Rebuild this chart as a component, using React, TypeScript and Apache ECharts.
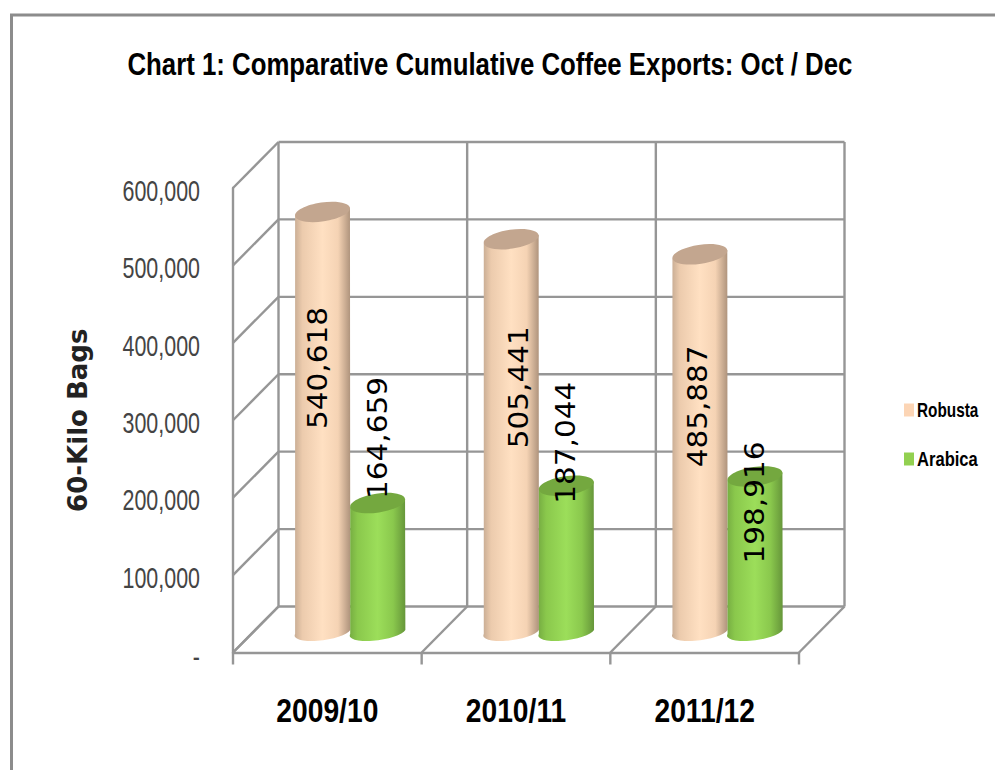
import React, { useEffect, useRef } from "react";
import * as echarts from "echarts";

const seasons = ["2009/10", "2010/11", "2011/12"];
const robusta = [540618, 505441, 485887];
const arabica = [164659, 187044, 198916];
const gridValues = [0, 100000, 200000, 300000, 400000, 500000, 600000];

const SANS = '"Liberation Sans", Arial, sans-serif';
const WIDE = '"DejaVu Sans", Verdana, sans-serif';

const ROBUSTA_COLOR = "#FCD5B5";
const ARABICA_COLOR = "#92D050";

// Depth of the box drawn behind the front plane
const DEPTH_X = 45.5;
const DEPTH_Y = 46;
const GRID_COLOR = "#969696";
const TILT = (8.5 * Math.PI) / 180;

// Shift of each rotated value label from the top centre of its cylinder
const robustaLabelShift = [[-4, 156], [8, 148], [-2, 152]];
const arabicaLabelShift = [[0, -65], [0, -43], [0, 26]];

const fmt = (v: number) => v.toLocaleString("en-US");

const line = (x1: number, y1: number, x2: number, y2: number) => ({
  type: "line",
  shape: { x1, y1, x2, y2 },
  style: { stroke: GRID_COLOR, lineWidth: 2.4 },
});

// One value level: diagonal on the side wall, line on the back wall, tick label in front
const wallLevels = (_: any, api: any) => {
  const band = api.size([1, 0])[0];
  const value = api.value(0);
  const [x0, y] = api.coord([0, value]);
  const left = x0 - band / 2;
  return {
    type: "group",
    children: [
      line(left, y, left + DEPTH_X, y - DEPTH_Y),
      line(left + DEPTH_X, y - DEPTH_Y, left + DEPTH_X + band * seasons.length, y - DEPTH_Y),
      {
        type: "text",
        x: left - 33,
        y: y + (value === 0 ? 4 : 2.5),
        scaleX: 0.74,
        style: {
          text: value === 0 ? "-" : fmt(value),
          fill: "#444",
          font: `29px ${SANS}`,
          align: "right",
          verticalAlign: "middle",
        },
      },
    ],
  };
};

// One category boundary: upright on the back wall, diagonal on the floor, season label
const wallColumns = (_: any, api: any) => {
  const band = api.size([1, 0])[0];
  const idx = api.value(0);
  const [xc, yFloor] = api.coord([Math.min(idx, seasons.length - 1), 0]);
  const [, yTop] = api.coord([0, 600000]);
  const x = xc - band / 2 + (idx === seasons.length ? band : 0);
  const children: any[] = [
    line(x + DEPTH_X, yFloor - DEPTH_Y, x + DEPTH_X, yTop - DEPTH_Y),
    line(x, yFloor, x + DEPTH_X, yFloor - DEPTH_Y),
    line(x, yFloor, x, yFloor + 12),
  ];
  if (idx < seasons.length) {
    children.push({
      type: "text",
      x: xc,
      y: yFloor + 58,
      scaleX: 0.83,
      style: {
        text: seasons[idx],
        fill: "#000",
        font: `bold 34px ${SANS}`,
        align: "center",
        verticalAlign: "middle",
      },
    });
  }
  return { type: "group", children };
};

const cylinder =
  (side: number, stops: string[], lid: string, shifts: number[][]) => (_: any, api: any) => {
    const idx = api.value(0);
    const value = api.value(1);
    const band = api.size([1, 0])[0];
    const rx = band * 0.147;
    const [xc, yTop] = api.coord([idx, value]);
    const [, yBase] = api.coord([idx, 0]);
    const cx = xc + DEPTH_X / 2 + side * band * 0.146;
    const top = yTop - 22;
    const base = yBase - 22.5;
    const dx = rx * Math.cos(TILT);
    const dy = rx * Math.sin(TILT);
    const body =
      `M${cx - dx} ${top + dy}L${cx - dx} ${base + dy}` +
      `A${rx} 8 -8.5 0 0 ${cx + dx} ${base - dy}L${cx + dx} ${top - dy}Z`;
    const [sx, sy] = shifts[idx];
    return {
      type: "group",
      children: [
        {
          type: "path",
          shape: { pathData: body },
          style: {
            fill: {
              type: "linear",
              x: 0,
              y: 0,
              x2: 1,
              y2: 0,
              colorStops: [
                { offset: 0, color: stops[0] },
                { offset: 0.14, color: stops[1] },
                { offset: 0.5, color: stops[2] },
                { offset: 0.78, color: stops[3] },
                { offset: 1, color: stops[4] },
              ],
            },
          },
        },
        {
          type: "ellipse",
          x: cx,
          y: top,
          rotation: TILT,
          shape: { cx: 0, cy: 0, rx, ry: 9.5 },
          style: { fill: lid },
        },
        {
          type: "text",
          x: cx + sx,
          y: top + sy,
          rotation: Math.PI / 2,
          scaleY: 0.88,
          z2: 10,
          style: {
            text: fmt(value),
            fill: "#000",
            font: `29.5px ${WIDE}`,
            align: "center",
            verticalAlign: "middle",
          },
        },
      ],
    };
  };

const legendEntry = (name: string, color: string, y: number, stretch: number) => ({
  type: "group",
  children: [
    { type: "rect", shape: { x: 904, y: y - 6.5, width: 10, height: 13 }, style: { fill: color } },
    {
      type: "text",
      x: 917,
      y,
      scaleX: stretch,
      style: {
        text: name,
        fill: "#000",
        font: `bold 21px ${SANS}`,
        align: "left",
        verticalAlign: "middle",
      },
    },
  ],
});

const option: any = {
  animation: false,
  backgroundColor: "#fff",
  grid: { left: 233, right: 196, top: 188, bottom: 117.5 },
  xAxis: {
    type: "category",
    data: seasons,
    axisLine: { lineStyle: { color: GRID_COLOR, width: 2.4 } },
    axisTick: { show: false },
    axisLabel: { show: false },
  },
  yAxis: {
    type: "value",
    min: 0,
    max: 600000,
    interval: 100000,
    name: "60-Kilo Bags",
    nameLocation: "middle",
    nameRotate: 90,
    nameGap: 142,
    nameTextStyle: { fontFamily: WIDE, fontWeight: "bold", fontSize: 26, color: "#222" },
    axisLine: { show: true, lineStyle: { color: GRID_COLOR, width: 2.4 } },
    axisTick: { show: false },
    splitLine: { show: false },
    axisLabel: { show: false },
  },
  graphic: [
    {
      type: "polyline",
      shape: { points: [[11.5, 770], [11.5, 15], [995, 15]] },
      style: { stroke: "#8c8c8c", lineWidth: 3, fill: "none" },
    },
    {
      type: "text",
      x: 127.5,
      y: 64,
      scaleX: 0.806,
      style: {
        text: "Chart 1: Comparative Cumulative Coffee Exports: Oct / Dec",
        fill: "#000",
        font: `bold 32px ${SANS}`,
        align: "left",
        verticalAlign: "middle",
      },
    },
    legendEntry("Robusta", ROBUSTA_COLOR, 410, 0.73),
    legendEntry("Arabica", ARABICA_COLOR, 459, 0.79),
  ],
  series: [
    {
      name: "walls-levels",
      type: "custom",
      data: gridValues.map((v) => [v]),
      encode: { y: 0 },
      renderItem: wallLevels,
      z: 1,
      silent: true,
    },
    {
      name: "walls-columns",
      type: "custom",
      data: [0, 1, 2, 3].map((i) => [i]),
      encode: { x: 0 },
      renderItem: wallColumns,
      z: 1,
      silent: true,
    },
    {
      name: "Robusta",
      type: "custom",
      itemStyle: { color: ROBUSTA_COLOR },
      data: robusta.map((v, i) => [i, v]),
      encode: { x: 0, y: 1 },
      renderItem: cylinder(-1, ["#c9ad94", "#eccbad", "#ffe0c2", "#f5d3b4", "#ae937c"], "#c3a68f", robustaLabelShift),
      z: 3,
    },
    {
      name: "Arabica",
      type: "custom",
      itemStyle: { color: ARABICA_COLOR },
      data: arabica.map((v, i) => [i, v]),
      encode: { x: 0, y: 1 },
      renderItem: cylinder(1, ["#76ad42", "#8ac84c", "#9cde5a", "#8ac84d", "#66963a"], "#74a83f", arabicaLabelShift),
      z: 4,
    },
  ],
};

export default function App() {
  const ref = useRef<HTMLDivElement>(null);
  useEffect(() => {
    const chart = echarts.init(ref.current!, undefined, { renderer: "svg" });
    chart.setOption(option);
    return () => chart.dispose();
  }, []);
  return (
    <div
      ref={ref}
      style={{ position: "absolute", left: 0, top: 0, width: 995, height: 770 }}
    />
  );
}
